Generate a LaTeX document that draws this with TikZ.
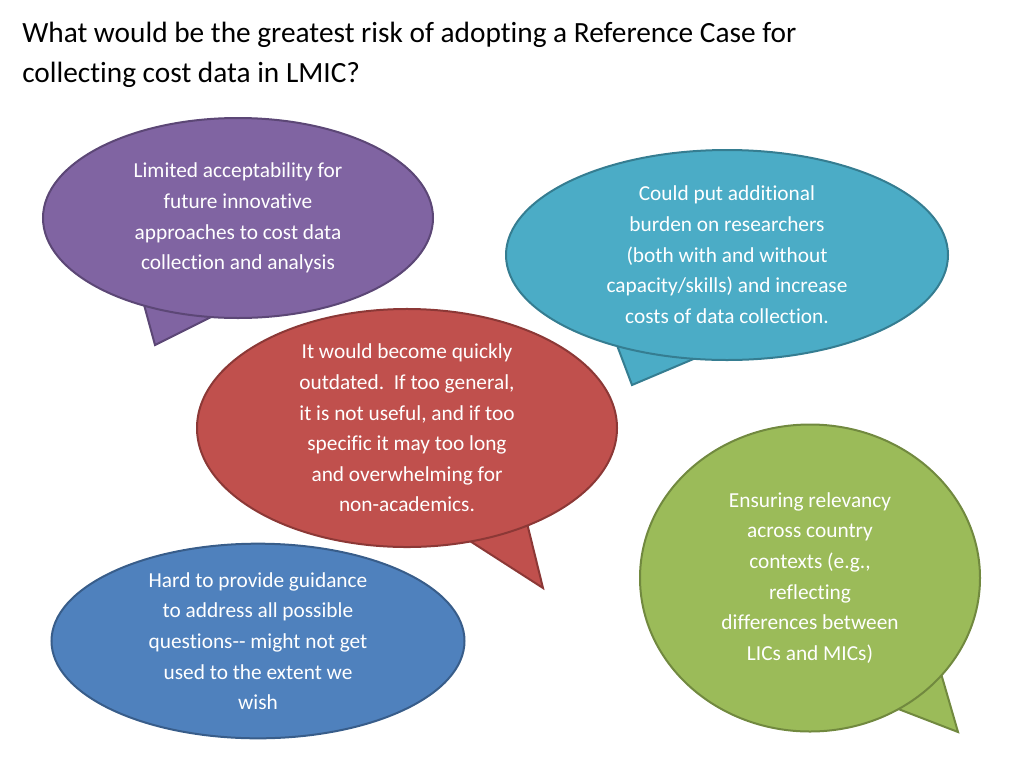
\documentclass[tikz,border=0pt]{standalone}
\usepackage{fontspec}
\setmainfont[Ligatures=NoCommon]{Carlito}
\usetikzlibrary{positioning,shapes.geometric}
\definecolor{purplefill}{HTML}{8064A2}
\definecolor{purpleline}{HTML}{5C4776}
\definecolor{aquafill}{HTML}{4BACC6}
\definecolor{aqualine}{HTML}{357D91}
\definecolor{redfill}{HTML}{C0504D}
\definecolor{redline}{HTML}{8C3836}
\definecolor{greenfill}{HTML}{9BBB59}
\definecolor{greenline}{HTML}{71893F}
\definecolor{bluefill}{HTML}{4F81BD}
\definecolor{blueline}{HTML}{385D8A}
\begin{document}
\begin{tikzpicture}[
  x=0.75pt, y=-0.75pt,
  bubble/.style={ellipse,line width=1.5pt,text=white,align=center,font=\fontsize{16}{23}\selectfont,inner sep=0pt},
  tail/.style={line width=1.5pt,line join=miter}]
\useasboundingbox (0,0) rectangle (1024,768);
\node[anchor=north west,align=left,font=\fontsize{22}{30}\selectfont,inner sep=0pt] (title) at (22,22)
  {What would be the greatest risk of adopting a Reference Case for\\collecting cost data in LMIC?};

% purple
\draw[tail,fill=purplefill,draw=purpleline] (140,290) -- (155,345) -- (225,310) -- cycle;
\node[bubble,fill=purplefill,draw=purpleline,minimum width=292.5pt,minimum height=150pt] (limited) at (238,218)
  {Limited acceptability for\\future innovative\\approaches to cost data\\collection and analysis};
% aqua
\draw[tail,fill=aquafill,draw=aqualine] (615,340) -- (632,385) -- (710,352) -- cycle;
\node[bubble,fill=aquafill,draw=aqualine,minimum width=331.5pt,minimum height=157.5pt] (burden) at (727,255)
  {Could put additional\\burden on researchers\\(both with and without\\capacity/skills) and increase\\costs of data collection.};
% red
\draw[tail,fill=redfill,draw=redline] (445,525) -- (543,588) -- (525,515) -- cycle;
\node[bubble,fill=redfill,draw=redline,minimum width=315pt,minimum height=174.75pt] (outdated) at (407,428)
  {It would become quickly\\outdated.\ \ If too general,\\it is not useful, and if too\\specific it may too long\\and overwhelming for\\non-academics.};
% green
\draw[tail,fill=greenfill,draw=greenline] (875,700) -- (958,732) -- (940,670) -- cycle;
\node[bubble,fill=greenfill,draw=greenline,minimum width=255pt,minimum height=230.25pt] (relevancy) at (810,578)
  {Ensuring relevancy\\across country\\contexts (e.g.,\\reflecting\\differences between\\LICs and MICs)};
% blue
\node[bubble,fill=bluefill,draw=blueline,minimum width=309.75pt,minimum height=121.5pt] (guidance) at (258,641)
  {Hard to provide guidance\\to address all possible\\questions{-}{-} might not get\\used to the extent we\\wish};
\end{tikzpicture}
\end{document}
